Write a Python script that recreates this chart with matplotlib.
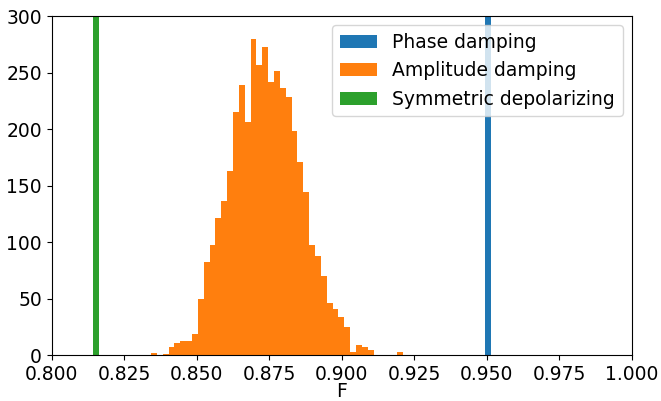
import numpy as np
import matplotlib
matplotlib.use("Agg")
import matplotlib.pyplot as plt

# Amplitude damping histogram (43 bins)
amp_start = 0.83422
amp_end = 0.92108
amp_counts = [2, 0, 1, 7, 11, 12, 12, 19, 50, 82, 97, 121, 136, 163, 215, 239,
              206, 280, 257, 273, 242, 251, 236, 228, 198, 171, 144, 97, 88, 70,
              46, 41, 34, 25, 3, 9, 7, 4, 0, 0, 0, 0, 3]

# Single-valued fidelities (drawn as histogram bars, clipped by y-limit)
phase_value = 0.95037
symdep_value = 0.81527
n_samples = 5000

xticks = [0.800, 0.825, 0.850, 0.875, 0.900, 0.925, 0.950, 0.975, 1.000]
yticks = [0, 50, 100, 150, 200, 250, 300]

plt.rcParams['font.family'] = ['DejaVu Sans']
fig = plt.figure(figsize=(6.61, 4.01), dpi=100)
ax = fig.add_axes([0.0782, 0.1147, 0.8778, 0.8453])

edges = np.linspace(amp_start, amp_end, len(amp_counts) + 1)
binw = edges[1] - edges[0]

ax.bar(phase_value, n_samples, width=binw, align='center', color='#1f77b4',
       label='Phase damping')
ax.bar(edges[:-1], amp_counts, width=binw, align='edge', color='#ff7f0e',
       label='Amplitude damping')
ax.bar(symdep_value, n_samples, width=binw, align='center', color='#2ca02c',
       label='Symmetric depolarizing')

ax.set_xlim(0.8, 1.0)
ax.set_ylim(0, 300)
ax.set_xticks(xticks)
ax.set_xticklabels([f"{t:.3f}" for t in xticks])
ax.set_yticks(yticks)
ax.tick_params(labelsize=13.5)
ax.set_xlabel('F', fontsize=13.5, labelpad=-1)
ax.legend(loc='upper right', fontsize=13.5)

fig.savefig('out.png', dpi=100)
